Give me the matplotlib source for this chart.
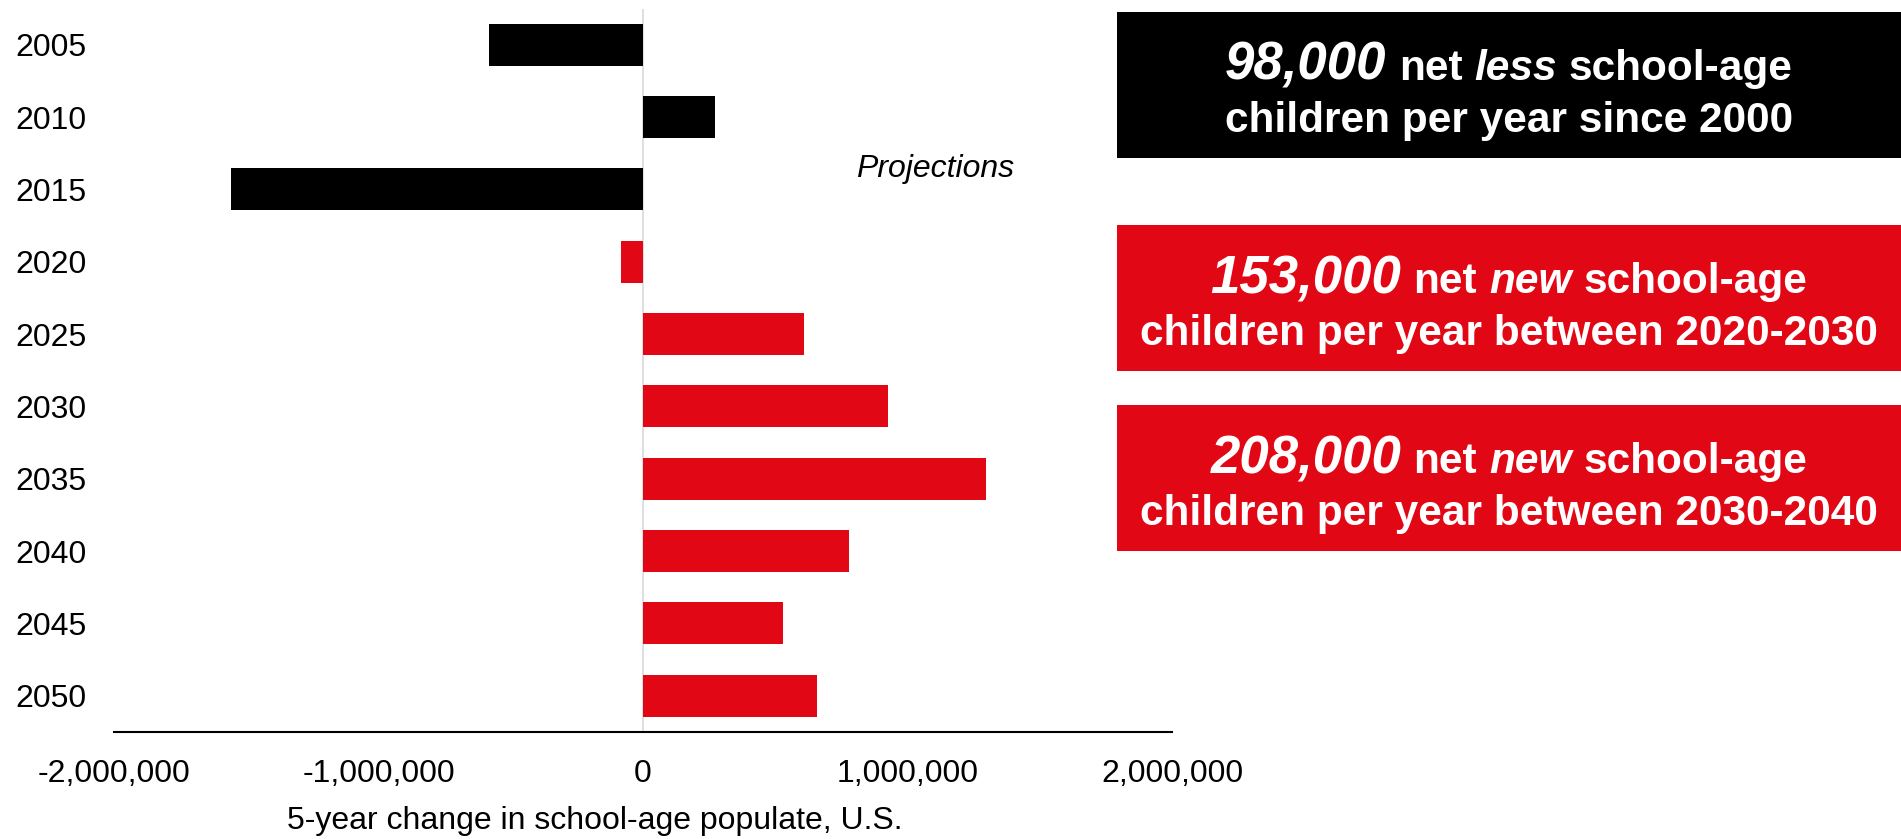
import matplotlib
matplotlib.use("Agg")
import matplotlib.pyplot as plt
from matplotlib.patches import Rectangle
from matplotlib.ticker import FuncFormatter

# 5-year change in school-age population, U.S.
years = [2005, 2010, 2015, 2020, 2025, 2030, 2035, 2040, 2045, 2050]
change = [-583000, 273000, -1558000, -85000, 607000, 927000, 1298000, 780000, 530000, 656000]
first_projected = 2020

# call-out boxes on the right
callout_numbers = ["98,000", "153,000", "208,000"]
callout_words = ["less", "new", "new"]
callout_periods = ["since 2000", "between 2020-2030", "between 2030-2040"]

BLACK = "#000000"
RED = "#E20714"
W, H = 1901, 839

plt.rcParams["font.family"] = ["Liberation Sans", "DejaVu Sans"]

fig = plt.figure(figsize=(W / 100, H / 100), dpi=100)
ax = fig.add_axes([114 / W, (H - 732) / H, 1058 / W, (732 - 8.5) / H])

colors = [RED if y >= first_projected else BLACK for y in years]
pos = list(range(len(years)))
ax.barh(pos, change, height=0.58, color=colors, zorder=2)
ax.axvline(0, color="#d9d9d9", lw=1.2, zorder=1)

ax.set_ylim(len(years) - 0.5, -0.5)
ax.set_xlim(-2_000_000, 2_000_000)
ax.set_xticks([-2_000_000, -1_000_000, 0, 1_000_000, 2_000_000])
ax.xaxis.set_major_formatter(FuncFormatter(lambda v, _: f"{v:,.0f}"))
ax.set_yticks(pos)
ax.set_yticklabels([str(y) for y in years])
ax.tick_params(axis="both", length=0, labelsize=23)
ax.tick_params(axis="y", pad=20)
ax.tick_params(axis="x", pad=19.5)
for side in ["top", "right", "left"]:
    ax.spines[side].set_visible(False)
ax.spines["bottom"].set_linewidth(1.5)

fig.text(935 / W, (H - 177) / H, "Projections", fontsize=23, style="italic",
         ha="center", va="baseline")
fig.text(595 / W, (H - 829) / H, "5-year change in school-age populate, U.S.",
         fontsize=23, ha="center", va="baseline")

# boxes: pixel layout from the top-left corner
box_left, box_h = 1117, 146
box_tops = [12, 225, 405]
box_colors = [BLACK, RED, RED]
gap = 12
renderer = fig.canvas.get_renderer()
xc = (box_left + W) / 2

for top, color, num, word, period in zip(box_tops, box_colors, callout_numbers,
                                         callout_words, callout_periods):
    fig.add_artist(Rectangle((box_left / W, 1 - (top + box_h) / H), (W - box_left) / W,
                             box_h / H, transform=fig.transFigure, color=color, lw=0))

    y1 = 1 - (top + 68) / H
    pieces = [(num, 38, "italic"), ("net", 30.5, "normal"),
              (word, 30.5, "italic"), ("school-age", 30.5, "normal")]
    texts = []
    for s, size, style in pieces:
        t = fig.text(0, y1, s, fontsize=size, style=style, weight="bold",
                     color="white", ha="left", va="baseline")
        texts.append(t)
    widths = [t.get_window_extent(renderer).width for t in texts]
    total = sum(widths) + gap * (len(widths) - 1)
    x = xc - total / 2
    for t, w in zip(texts, widths):
        t.set_x(x / W)
        x += w + gap

    fig.text(xc / W, 1 - (top + 120) / H, f"children per year {period}", fontsize=30.5,
             weight="bold", color="white", ha="center", va="baseline")

fig.savefig("out.png", dpi=100)
